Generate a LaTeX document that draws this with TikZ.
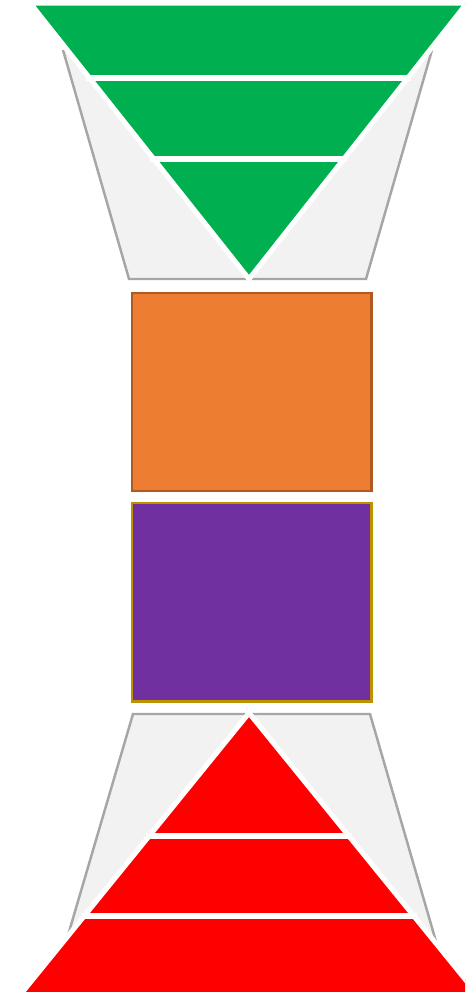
\documentclass[tikz,border=0pt]{standalone}
\usetikzlibrary{arrows.meta}
\definecolor{gn}{RGB}{0,176,80}
\definecolor{rd}{RGB}{255,0,0}
\definecolor{og}{RGB}{237,125,49}
\definecolor{ob}{RGB}{174,90,33}
\definecolor{pp}{RGB}{112,48,160}
\definecolor{pb}{RGB}{191,144,0}
\definecolor{fl}{RGB}{242,242,242}
\definecolor{gy}{RGB}{166,166,166}

\begin{document}
\begin{tikzpicture}[x=0.03cm, y=-0.03cm, line join=miter,
    funnel/.style={fill=fl, draw=gy, line width=2.1pt},
    layercut/.style={white, line width=5.1pt},
    blockbox/.style={line width=2.1pt}]

\useasboundingbox (0,0) rectangle (465,992);
\clip (0,0) rectangle (465,992);

% ════════════════════════════════════════════════
%  TOP — inverted green pyramid in its funnel
% ════════════════════════════════════════════════

% grey funnel behind
\filldraw[funnel] (63,50) -- (129,279) -- (366,279) -- (432,50);

% green triangle, white rim
\fill[gn, draw=white, line width=4.3pt] (30,3) -- (467,3) -- (249,279) -- cycle;

% layer cuts
\draw[layercut] (86,78.2) -- (411,78.2);
\draw[layercut] (150,158.6) -- (347,158.6);

% ════════════════════════════════════════════════
%  MIDDLE — two blocks
% ════════════════════════════════════════════════

\filldraw[blockbox, fill=og, draw=ob] (132.2,293.2) rectangle (371.5,491);
\filldraw[blockbox, fill=pp, draw=pb] (132.2,503.2) rectangle (371.5,701.5);

% ════════════════════════════════════════════════
%  BOTTOM — red pyramid in its funnel
% ════════════════════════════════════════════════

% grey funnel behind
\filldraw[funnel] (49,1000) -- (133,714) -- (370,714) -- (453,1000);

% red triangle, white rim
\fill[rd, draw=white, line width=4.3pt] (249,713) -- (482,1000) -- (16,1000) -- cycle;

% layer cuts
\draw[layercut] (146,835.7) -- (352,835.7);
\draw[layercut] (81,915.8) -- (417,915.8);

\end{tikzpicture}
\end{document}
